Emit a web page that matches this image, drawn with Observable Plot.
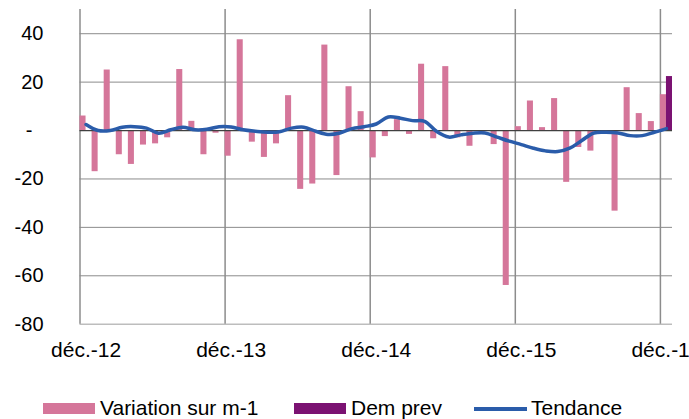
<!DOCTYPE html>
<html>
<head>
<meta charset="utf-8">
<script src="https://cdn.jsdelivr.net/npm/d3@7"></script>
<script src="https://cdn.jsdelivr.net/npm/@observablehq/plot@0.6"></script>
<style>
  html, body { margin: 0; padding: 0; background: #fff; overflow: hidden; }
  #wrap { width: 689px; height: 419px; position: relative; font-family: "Liberation Sans", Arial, sans-serif; }
  #legend { position: relative; width: 689px; height: 34px; font-size: 21px; color: #000; }
  .sw { position: absolute; top: 18px; height: 11px; }
  .ln { position: absolute; top: 22px; height: 3.5px; }
  .lt { position: absolute; top: 11px; line-height: 24px; white-space: nowrap; }
</style>
</head>
<body>
<div id="wrap"><div id="chart"></div><div id="legend"></div></div>
<script>
// ---- data ----
const monthNames = ["janv.", "févr.", "mars", "avr.", "mai", "juin", "juil.", "août", "sept.", "oct.", "nov.", "déc."];
const years = ["13", "14", "15", "16"];
// monthly categories from déc.-12 to déc.-16 (49 months)
const months = ["déc.-12"];
for (const yr of years) for (const mn of monthNames) months.push(mn + "-" + yr);

const variation = [6, -17, 25, -10, -14, -6, -5.5, -3, 25.2, 3.8, -10, -1.1,
  -10.6, 37.5, -4.8, -11.1, -5.5, 14.4, -24.3, -22.1, 35.3, -18.6, 18.1, 7.8,
  -11.3, -2.5, 4.5, -1.6, 27.4, -3.4, 26.4, -3, -6.5, -1, -5.8, -64,
  1.6, 12.2, 1.2, 13.2, -21.4, -7, -8.5, -0.5, -33.3, 17.7, 7, 3.7,
  14.8];
const tendance = [2.5, 0, 0, 1.4, 1.6, 1, -1.1, 0.3, 1.4, 0.3, 0.5, 1.6,
  1.5, 0.3, -0.3, -0.7, -0.5, 1, 1.4, -0.3, -1.6, -1, 0.8, 1.6,
  2.7, 5.6, 5.1, 4.1, 3.8, -0.4, -2.7, -1.8, -1.1, -1, -2.7, -4.4,
  -5.8, -7.3, -8.4, -8.7, -7.3, -4.1, -1, -0.7, -1, -2.1, -2.1, -0.7,
  0.8];
const demPrevMonths = ["déc.-16"];
const demPrevValues = [22.3];
const tickMonths = ["déc.-12", "déc.-13", "déc.-14", "déc.-15", "déc.-16"];
const yTicks = [-80, -60, -40, -20, 0, 20, 40];

// ---- tables ----
const table = months.map((m, i) => ({i, m, v: variation[i], t: tendance[i]}));
const demTable = demPrevMonths.map((m, k) => ({i: months.indexOf(m), v: demPrevValues[k]}));
const decIdx = tickMonths.map(m => months.indexOf(m));

const pink = "#d5769a", purple = "#7b1272", blue = "#2a5caa";

const chart = Plot.plot({
  width: 689,
  height: 385,
  marginLeft: 79.5,
  marginRight: 17,
  marginTop: 9,
  marginBottom: 61.3,
  style: {fontFamily: "'Liberation Sans', Arial, sans-serif", fontSize: "20px", color: "#000", background: "#fff"},
  x: {type: "linear", domain: [0, months.length]},
  y: {domain: [-80, 50]},
  marks: [
    Plot.ruleY(yTicks.filter(d => d !== 0 && d !== -80), {stroke: "#8c8c8c", strokeWidth: 1}),
    Plot.ruleY([-80], {stroke: "#bdbdbd", strokeWidth: 1.5}),
    Plot.ruleX(decIdx, {stroke: "#8c8c8c", strokeWidth: 1.5}),
    Plot.rectY(table, {x1: "i", x2: d => d.i + 0.5, y1: 0, y2: "v", fill: pink}),
    Plot.rectY(demTable, {x1: d => d.i + 0.5, x2: d => d.i + 1, y1: 0, y2: "v", fill: purple}),
    Plot.ruleY([0], {stroke: "#404040", strokeWidth: 1.2}),
    Plot.line(table, {x: d => d.i + 0.5, y: "t", stroke: blue, strokeWidth: 3.5, curve: "catmull-rom"}),
    Plot.axisY({ticks: yTicks, tickSize: 0, tickPadding: 36.5, fontSize: 20, label: null,
      tickFormat: d => d === 0 ? "-\u00a0\u00a0" : String(d)}),
    Plot.axisX({ticks: decIdx.map(i => i + 0.5), tickSize: 0, tickPadding: 18, fontSize: 21, label: null,
      tickFormat: d => months[d - 0.5]})
  ]
});
document.getElementById("chart").appendChild(chart);

// ---- legend ----
const legendItems = [
  {label: "Variation sur m-1", color: pink, kind: "sw", x: 43, w: 52, tx: 100},
  {label: "Dem prev", color: purple, kind: "sw", x: 294, w: 52, tx: 351},
  {label: "Tendance", color: blue, kind: "ln", x: 474, w: 53, tx: 531}
];
const leg = document.getElementById("legend");
for (const it of legendItems) {
  const s = document.createElement("div");
  s.className = it.kind;
  s.style.left = it.x + "px";
  s.style.width = it.w + "px";
  s.style.background = it.color;
  leg.appendChild(s);
  const t = document.createElement("div");
  t.className = "lt";
  t.style.left = it.tx + "px";
  t.textContent = it.label;
  leg.appendChild(t);
}
</script>
</body>
</html>
